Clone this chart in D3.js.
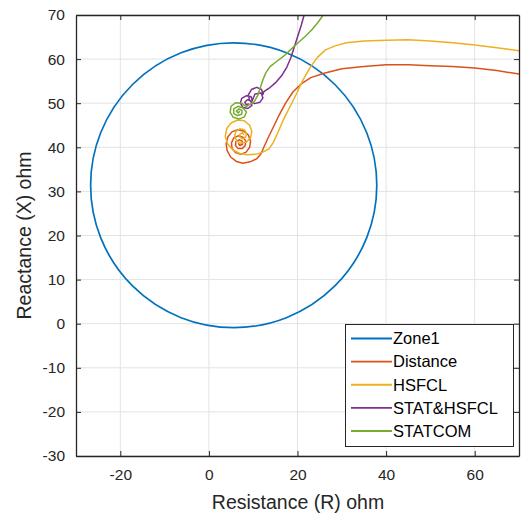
<!DOCTYPE html>
<html>
<head>
<meta charset="utf-8">
<script src="https://cdn.jsdelivr.net/npm/d3@7"></script>
<style>
  html, body { margin: 0; padding: 0; background: #fff; }
  svg { display: block; font-family: "Liberation Sans", Arial, sans-serif; }
</style>
</head>
<body>
<svg id="chart" width="521" height="515"></svg>
<script>
// Axis ranges and ticks (ohm)
const xDomain = [-30, 70];
const yDomain = [-30, 70];
const xTicks = [-20, 0, 20, 40, 60];
const yTicks = [-30, -20, -10, 0, 10, 20, 30, 40, 50, 60, 70];

// Zone 1 mho circle: centre (R, X) and radius
const zone1Center = [5.6, 31.4];
const zone1Radius = 32.3;

// Apparent impedance trajectories, [R, X] pairs
const distance = [
  [70, 56.6], [65, 57.4], [60, 58.0], [55, 58.3], [50, 58.5], [45, 58.7], [40, 58.7],
  [35, 58.3], [30, 57.8], [26, 56.8], [23, 55.8], [21, 54.5], [19, 52.6], [17.3, 50],
  [15.8, 47.2], [14.5, 44.5], [13.3, 42], [12.4, 40], [11.8, 38.6], [10.8, 37.4],
  [9.3, 36.7], [7.7, 36.4], [6.2, 36.8], [4.9, 37.8], [4.1, 39.3], [3.9, 40.9],
  [4.3, 42.4], [5.2, 43.5], [6.5, 44.0], [7.8, 43.7], [8.9, 42.8], [9.4, 41.4],
  [9.2, 40], [8.4, 38.9], [7.2, 38.4], [6.0, 38.8], [5.2, 39.8], [5.1, 41.0],
  [5.6, 42.1], [6.6, 42.6], [7.7, 42.3], [8.3, 41.4], [8.2, 40.4], [7.5, 39.7],
  [6.6, 39.7], [6.0, 40.4], [6.1, 41.3], [6.8, 41.7], [7.5, 41.4], [7.6, 40.7],
  [7.0, 40.4], [6.6, 40.9]
];
const hsfcl = [
  [70, 61.9], [65, 62.6], [60, 63.2], [55, 63.7], [50, 64.1], [45, 64.4], [40, 64.3],
  [35, 64.1], [31, 63.7], [28.5, 63.0], [26.3, 62.1], [24.5, 60.4], [22.8, 58],
  [21.2, 55.2], [19.8, 52.2], [18.3, 49.2], [16.8, 46.2], [15.5, 43.2], [14.5, 41],
  [13.6, 39.7], [12.2, 38.9], [10.5, 38.4], [8.7, 38.3], [7, 38.6], [5.4, 39.4],
  [4.2, 40.8], [3.7, 42.5], [4.0, 44.2], [5.0, 45.5], [6.5, 46.2], [8.0, 46.0],
  [9.2, 45.0], [9.7, 43.6], [9.4, 42.2], [8.5, 41.2], [7.3, 40.9], [6.3, 41.4],
  [5.8, 42.5], [6.1, 43.6], [7.0, 44.2], [8.0, 44.0], [8.5, 43.2], [8.3, 42.3],
  [7.6, 41.9], [7.0, 42.3], [7.0, 43.0], [7.6, 43.3], [7.9, 42.8]
];
const statHsfcl = [
  [21.5, 70], [20.8, 67.5], [20.0, 65], [19.2, 62.5], [18.5, 60.3], [17.6, 58.2],
  [16.4, 56.2], [15.0, 54.6], [13.6, 53.4], [12.4, 52.6], [12.2, 52.0], [11.9, 53.1],
  [10.8, 53.6], [9.6, 53.1], [8.9, 51.9], [9.2, 50.6], [10.3, 49.9], [11.5, 50.2],
  [12.2, 51.2], [11.8, 52.3], [10.4, 52.1], [9.8, 50.6], [9.5, 51.5], [8.5, 51.7],
  [7.4, 51.1], [7.1, 50.0], [7.7, 49.0], [8.8, 48.8], [9.7, 49.5], [9.5, 50.5],
  [8.7, 50.8], [8.1, 50.2], [8.5, 49.6], [9.0, 49.9]
];
const statcom = [
  [25.8, 70], [24.6, 68.3], [23.2, 66.6], [21.6, 65.0], [20, 63.6], [18.4, 62.1],
  [16.8, 60.6], [15.2, 59.4], [13.8, 58.3], [12.9, 57.0], [12.2, 55.3], [11.6, 53.5],
  [11.0, 51.7], [10.2, 50.3], [9.0, 49.6], [8.4, 49.2], [7.4, 50.0], [6.0, 50.1],
  [5.0, 49.3], [4.8, 47.9], [5.5, 46.8], [6.8, 46.4], [8.0, 46.9], [8.5, 48.0],
  [7.7, 48.9], [6.6, 49.3], [5.6, 48.7], [5.6, 47.7], [6.4, 47.2], [7.4, 47.5],
  [7.5, 48.3], [6.8, 48.7], [6.2, 48.2], [6.6, 47.8], [7.0, 48.2]
];

const seriesNames = ["Zone1", "Distance", "HSFCL", "STAT&HSFCL", "STATCOM"];
const seriesColors = ["#0072BD", "#D95319", "#EDB120", "#7E2F8E", "#77AC30"];

const svg = d3.select("#chart");
const plot = { left: 76, right: 519, top: 15, bottom: 456 };
const axisColor = "#262626";

const x = d3.scaleLinear().domain(xDomain).range([plot.left, plot.right]);
const y = d3.scaleLinear().domain(yDomain).range([plot.bottom, plot.top]);
const plainNumber = d => String(d);

// Grid
const grid = svg.append("g").attr("stroke", "#e3e3e3").attr("stroke-width", 1);
grid.selectAll("line.gx").data(xTicks).join("line")
  .attr("x1", d => x(d)).attr("x2", d => x(d))
  .attr("y1", plot.top).attr("y2", plot.bottom);
grid.selectAll("line.gy").data(yTicks).join("line")
  .attr("y1", d => y(d)).attr("y2", d => y(d))
  .attr("x1", plot.left).attr("x2", plot.right);

// Clip for the data
svg.append("clipPath").attr("id", "clip").append("rect")
  .attr("x", plot.left).attr("y", plot.top)
  .attr("width", plot.right - plot.left).attr("height", plot.bottom - plot.top);
const data = svg.append("g").attr("clip-path", "url(#clip)");

// Zone 1 circle
data.append("ellipse")
  .attr("cx", x(zone1Center[0])).attr("cy", y(zone1Center[1]))
  .attr("rx", x(zone1Radius) - x(0)).attr("ry", y(0) - y(zone1Radius))
  .attr("fill", "none").attr("stroke", seriesColors[0]).attr("stroke-width", 1.7);

const line = d3.line().x(d => x(d[0])).y(d => y(d[1]));
[distance, hsfcl, statHsfcl, statcom].forEach((s, i) => {
  data.append("path").datum(s)
    .attr("d", line)
    .attr("fill", "none")
    .attr("stroke", seriesColors[i + 1])
    .attr("stroke-width", 1.5)
    .attr("stroke-linejoin", "round");
});

// Axes (box with inward ticks)
const tickLen = 5;
const bottomAxis = d3.axisBottom(x).tickValues(xTicks).tickFormat(plainNumber).tickSizeInner(-tickLen).tickSizeOuter(0).tickPadding(13);
const topAxis = d3.axisTop(x).tickValues(xTicks).tickSizeInner(-tickLen).tickSizeOuter(0).tickFormat("");
const leftAxis = d3.axisLeft(y).tickValues(yTicks).tickFormat(plainNumber).tickSizeInner(-tickLen).tickSizeOuter(0).tickPadding(11);
const rightAxis = d3.axisRight(y).tickValues(yTicks).tickSizeInner(-tickLen).tickSizeOuter(0).tickFormat("");

function styleAxis(g) {
  g.select(".domain").attr("stroke", axisColor).attr("stroke-width", 1.3);
  g.selectAll(".tick line").attr("stroke", axisColor).attr("stroke-width", 1);
  g.selectAll(".tick text").attr("fill", axisColor)
    .style("font-family", "'Liberation Sans', Arial, sans-serif")
    .style("font-size", "15.5px");
}
svg.append("g").attr("transform", `translate(0,${plot.bottom})`).call(bottomAxis).call(styleAxis);
svg.append("g").attr("transform", `translate(0,${plot.top})`).call(topAxis).call(styleAxis);
svg.append("g").attr("transform", `translate(${plot.left},0)`).call(leftAxis).call(styleAxis);
svg.append("g").attr("transform", `translate(${plot.right},0)`).call(rightAxis).call(styleAxis);

// Axis titles
svg.append("text")
  .attr("x", (plot.left + plot.right) / 2 + 0.5).attr("y", 509)
  .attr("text-anchor", "middle").attr("fill", axisColor)
  .style("font-size", "19.5px")
  .text("Resistance (R) ohm");
svg.append("text")
  .attr("transform", `translate(31,${(plot.top + plot.bottom) / 2}) rotate(-90)`)
  .attr("text-anchor", "middle").attr("fill", axisColor)
  .style("font-size", "19.5px")
  .text("Reactance (X) ohm");

// Legend
const legend = svg.append("g");
legend.append("rect")
  .attr("x", 345.5).attr("y", 324.5).attr("width", 168).attr("height", 122)
  .attr("fill", "#fff").attr("stroke", axisColor).attr("stroke-width", 1);
const rowY = d3.scaleLinear().domain([0, 4]).range([338.5, 431]);
seriesNames.forEach((name, i) => {
  legend.append("line")
    .attr("x1", 351).attr("x2", 392)
    .attr("y1", rowY(i)).attr("y2", rowY(i))
    .attr("stroke", seriesColors[i]).attr("stroke-width", 1.8);
  legend.append("text")
    .attr("x", 393).attr("y", rowY(i)).attr("dy", "0.35em")
    .attr("fill", "#000")
    .style("font-size", "16.5px")
    .text(name);
});
</script>
</body>
</html>
